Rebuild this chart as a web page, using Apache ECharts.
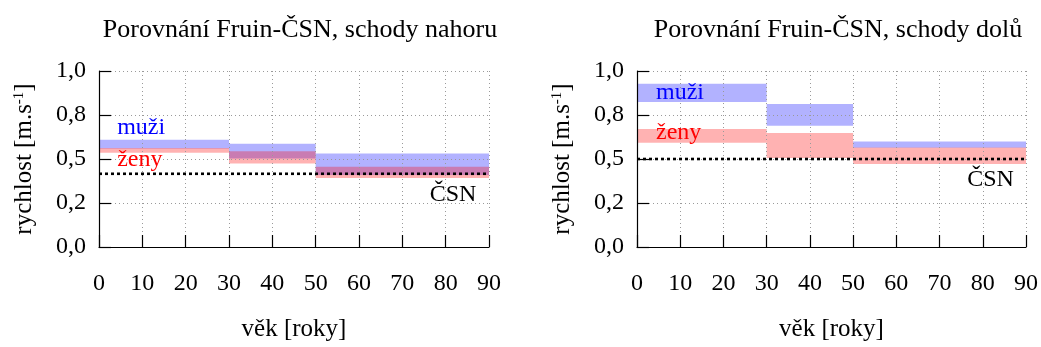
<!DOCTYPE html>
<html>
<head>
<meta charset="utf-8">
<script src="https://cdn.jsdelivr.net/npm/echarts@6/dist/echarts.min.js"></script>
<style>
html,body{margin:0;padding:0;background:#fff;}
#chart{width:1041px;height:347px;}
</style>
</head>
<body>
<div id="chart"></div>
<script>
// ---- data ----
const titles = ['Porovnání Fruin-ČSN, schody nahoru', 'Porovnání Fruin-ČSN, schody dolů'];
const ageBins = [[0, 30], [30, 50], [50, 90]];
const xTicks = [0, 10, 20, 30, 40, 50, 60, 70, 80, 90];
const yTickLabels = ['0,0', '0,2', '0,5', '0,8', '1,0'];
// speed bands [low, high] per age bin, m/s
const menUp    = [[0.559, 0.609], [0.503, 0.587], [0.409, 0.531]];
const womenUp  = [[0.536, 0.562], [0.475, 0.544], [0.392, 0.456]];
const csnUp    = 0.416;
const menDown   = [[0.824, 0.927], [0.689, 0.813], [0.564, 0.600]];
const womenDown = [[0.593, 0.670], [0.505, 0.648], [0.471, 0.566]];
const csnDown   = 0.5;
const labelNames = ['muži', 'ženy', 'ČSN'];

// ---- option building ----
const FONT = '"Liberation Serif", "Times New Roman", serif';
const chart = echarts.init(document.getElementById('chart'));

const panels = [
  {men: menUp, women: womenUp, csn: csnUp, left: 99,
   ann: [[4.2, 0.680], [4.2, 0.497], [76.3, 0.296]]},
  {men: menDown, women: womenDown, csn: csnDown, left: 637,
   ann: [[4.4, 0.879], [4.4, 0.652], [76.4, 0.380]]}
];
const annColors = ['#0000ff', '#ff0000', '#000000'];

function bandData(bands) {
  return bands.map((b, i) => [ageBins[i][0], ageBins[i][1], b[0], b[1]]);
}
function renderBand(color) {
  return function (params, api) {
    const p1 = api.coord([api.value(0), api.value(3)]);
    const p2 = api.coord([api.value(1), api.value(2)]);
    return {type: 'rect', shape: {x: p1[0], y: p1[1], width: p2[0] - p1[0], height: p2[1] - p1[1]},
            style: {fill: color}};
  };
}

const grid = [], xAxis = [], yAxis = [], series = [], title = [];
panels.forEach((p, k) => {
  grid.push({left: p.left, top: 71, width: 390, height: 179});
  title.push({text: titles[k], left: p.left + 196, top: 12, textAlign: 'center',
    textStyle: {fontFamily: FONT, fontSize: 26, fontWeight: 'normal', color: '#000'}});
  xAxis.push({type: 'value', gridIndex: k, min: 0, max: 90, interval: 10, z: 3,
    name: 'věk [roky]', nameLocation: 'middle', nameGap: 70,
    nameTextStyle: {fontFamily: FONT, fontSize: 25, color: '#000'},
    axisLine: {show: true, onZero: false, lineStyle: {color: '#000', width: 1.2}},
    axisTick: {show: true, inside: true, length: 12, lineStyle: {color: '#000', width: 1.2}},
    axisLabel: {margin: 25, fontFamily: FONT, fontSize: 24, color: '#000',
      formatter: v => String(xTicks[Math.round(v / 10)])},
    splitLine: {show: true, lineStyle: {color: '#9a9a9a', width: 1, type: [1, 3]}}
  });
  yAxis.push({type: 'value', gridIndex: k, min: 0, max: 1, interval: 0.25, z: 3,
    name: 'rychlost [m.s{sup|-1}]', nameLocation: 'middle', nameRotate: 90, nameGap: 62,
    nameTextStyle: {fontFamily: FONT, fontSize: 25, color: '#000',
      rich: {sup: {fontFamily: FONT, fontSize: 15, color: '#000', verticalAlign: 'top', padding: [0, 0, 10, 0]}}},
    axisLine: {show: true, lineStyle: {color: '#000', width: 1.2}},
    axisTick: {show: true, inside: true, length: 12, lineStyle: {color: '#000', width: 1.2}},
    axisLabel: {margin: 13, fontFamily: FONT, fontSize: 24, color: '#000',
      formatter: (v) => yTickLabels[Math.round(v / 0.25)]},
    splitLine: {show: true, lineStyle: {color: '#9a9a9a', width: 1, type: [1, 3]}}
  });
  series.push({type: 'custom', xAxisIndex: k, yAxisIndex: k, z: 1,
    renderItem: renderBand('rgba(0,0,255,0.3)'), data: bandData(p.men), silent: true});
  series.push({type: 'custom', xAxisIndex: k, yAxisIndex: k, z: 1,
    renderItem: renderBand('rgba(255,0,0,0.3)'), data: bandData(p.women), silent: true});
  series.push({type: 'line', xAxisIndex: k, yAxisIndex: k, z: 5, symbol: 'none', silent: true,
    data: [[0, p.csn], [90, p.csn]],
    lineStyle: {color: '#000', width: 2.6, type: [3, 3]}});
  series.push({type: 'scatter', xAxisIndex: k, yAxisIndex: k, z: 6, symbolSize: 0, silent: true,
    itemStyle: {opacity: 1},
    data: p.ann.map((a, i) => ({value: a, name: labelNames[i],
      label: {color: annColors[i]}})),
    label: {show: true, position: 'right', distance: 0, formatter: '{b}', opacity: 1,
      fontFamily: FONT, fontSize: 24}});
});

chart.setOption({animation: false, backgroundColor: '#fff', title, grid, xAxis, yAxis, series});
</script>
</body>
</html>
